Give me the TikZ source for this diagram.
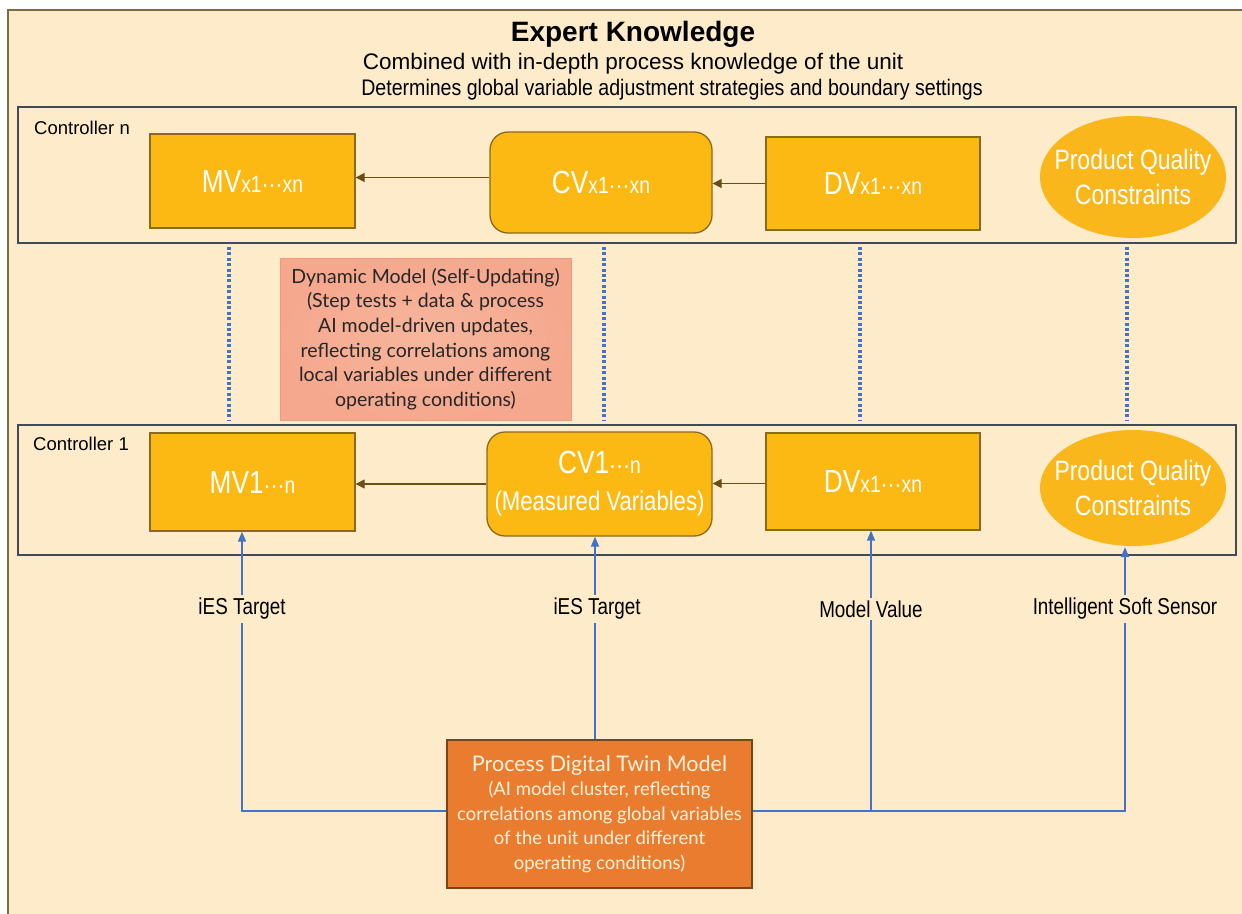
\documentclass[tikz,border=0pt]{standalone}
\usepackage{fontspec}
\setmainfont{Liberation Sans}
\newfontfamily\narrowf[FakeStretch=0.82]{Liberation Sans}
\newfontfamily\semif[FakeStretch=0.87]{Liberation Sans}
\newfontfamily\humf{Lato}
\newfontfamily\dvf{DejaVu Sans}
\usetikzlibrary{arrows.meta,shapes.geometric,calc}
\definecolor{bg}{HTML}{FDEBC9}
\definecolor{framecol}{HTML}{7D6B45}
\definecolor{ctrlborder}{HTML}{3F4B58}
\definecolor{gold}{HTML}{FDB913}
\definecolor{goldborder}{HTML}{8A6A1C}
\definecolor{ellgold}{HTML}{F9B71C}
\definecolor{brownarrow}{HTML}{6A4E14}
\definecolor{blueline}{HTML}{4472C4}
\definecolor{salmon}{HTML}{F5A88E}
\definecolor{salmonlight}{HTML}{F7B69D}
\definecolor{salmonborder}{HTML}{EE9A7C}
\definecolor{procorange}{HTML}{EA7C30}
\definecolor{procborder}{HTML}{7A4516}
\definecolor{cream}{HTML}{FFF1DA}
\newcommand\subtxt[1]{{\fontsize{23.5}{25}\selectfont #1}}
\newcommand\dts{{\dvf\fontsize{21}{25}\selectfont ⋯}}
\newcommand\bigtxt[1]{{\fontsize{32}{34}\selectfont #1}}
\begin{document}
\begin{tikzpicture}[x=1pt,y=-1pt,
  ctrlbox/.style={draw=ctrlborder, line width=1.8pt, fill=bg, inner sep=0pt},
  goldbox/.style={draw=goldborder, line width=1.3pt, fill=gold, inner sep=0pt, text=white, font=\narrowf},
  goldround/.style={goldbox, rounded corners=18pt},
  goldell/.style={ellipse, fill=ellgold, inner xsep=-14pt, inner ysep=10pt, text=white, align=center, font=\narrowf\fontsize{28}{35}\selectfont},
  ctrllabel/.style={anchor=west, inner sep=0pt, font=\fontsize{18.5}{20}\selectfont},
  brarrow/.style={draw=brownarrow, line width=1.3pt, -{Triangle[width=9pt,length=9pt]}},
  bluearrow/.style={draw=blueline, line width=1.5pt, -{Triangle[width=8pt,length=10pt]}},
  dotline/.style={draw=blueline, line width=3.4pt, dash pattern=on 3pt off 2.4pt},
  flowlabel/.style={fill=bg, inner sep=3pt, font=\narrowf\fontsize{23}{25}\selectfont},
  dynbox/.style={draw=salmonborder, line width=1pt, inner color=salmonlight, outer color=salmon, align=center, inner sep=0pt, text=black!85, font=\humf\fontsize{19.5}{24.7}\selectfont},
  procbox/.style={draw=procborder, line width=1.8pt, fill=procorange, align=center, inner sep=0pt, text=cream, font=\humf\fontsize{18.5}{24.5}\selectfont}
]
\useasboundingbox (0,0) rectangle (1242,913);
\fill[white] (0,0) rectangle (1242,913);
\fill[bg] (8,10) rectangle (1252,925);
\draw[framecol, line width=1.5pt] (8,925) -- (8,10) -- (1252,10);

% header
\node[inner sep=0pt] (title) at (633,34) {\bfseries\fontsize{28}{30}\selectfont Expert Knowledge};
\node[inner sep=0pt] (sub1) at (633,64) {\fontsize{22.5}{24}\selectfont Combined with in-depth process knowledge of the unit};
\node[inner sep=0pt] (sub2) at (672,90) {\semif\fontsize{22.5}{24}\selectfont Determines global variable adjustment strategies and boundary settings};

% controller n
\node[ctrlbox, minimum width=1218pt, minimum height=136pt] (cn) at (627,175) {};
\node[ctrllabel] (cnlabel) at (34,128) {Controller n};
\node[goldbox, minimum width=205pt, minimum height=94pt] (mvn) at (252.5,181) {\bigtxt{MV}\subtxt{x1\dts xn}};
\node[goldround, minimum width=222pt, minimum height=101pt] (cvn) at (601,182.5) {\bigtxt{CV}\subtxt{x1\dts xn}};
\node[goldbox, minimum width=214pt, minimum height=93pt] (dvn) at (873,183.5) {\bigtxt{DV}\subtxt{x1\dts xn}};
\node[goldell, minimum width=186pt, minimum height=122pt] (pqn) at (1133,177) {Product Quality\\Constraints};
\draw[brarrow] ([yshift=5pt]cvn.west) -- ([yshift=5pt]cvn.west -| mvn.east);
\draw[brarrow] (dvn.west) -- (dvn.west -| cvn.east);

% controller 1
\node[ctrlbox, minimum width=1218pt, minimum height=130pt] (c1) at (627,490) {};
\node[ctrllabel] (c1label) at (33,444) {Controller 1};
\node[goldbox, minimum width=205pt, minimum height=98pt] (mv1) at (252.5,482) {\bigtxt{MV1}\subtxt{\dts n}};
\node[goldround, minimum width=225pt, minimum height=104pt, align=center, font=\narrowf\fontsize{27}{37}\selectfont] (cv1) at (599.5,484) {\bigtxt{CV1}\subtxt{\dts n}\\(Measured Variables)};
\node[goldbox, minimum width=214pt, minimum height=97pt] (dv1) at (873,481.5) {\bigtxt{DV}\subtxt{x1\dts xn}};
\node[goldell, minimum width=186pt, minimum height=116pt] (pq1) at (1133,488) {Product Quality\\Constraints};
\draw[brarrow] (cv1.west) -- (cv1.west -| mv1.east);
\draw[brarrow] ([yshift=-2pt]dv1.west) -- ([yshift=-2pt]dv1.west -| cv1.east);

% dotted links
\coordinate (d1) at (229,0);
\coordinate (d2) at (604,0);
\coordinate (d3) at (860,0);
\coordinate (d4) at (1127,0);
\foreach \d in {d1,d2,d3,d4}{
  \draw[dotline] ([yshift=-3pt]cn.south -| \d) -- ([yshift=3pt]c1.north -| \d);
}

% dynamic model
\node[dynbox, minimum width=291pt, minimum height=162pt] (dyn) at (425.5,339) {Dynamic Model (Self-Updating)\\(Step tests + data \& process\\AI model-driven updates,\\reflecting correlations among\\local variables under different\\operating conditions)};

% process digital twin
\node[procbox, minimum width=305pt, minimum height=148pt] (pdt) at (599.5,814) {{\fontsize{21.5}{26}\selectfont Process Digital Twin Model}\\(AI model cluster, reflecting\\correlations among global variables\\of the unit under different\\operating conditions)};

\coordinate (b1) at (242,0);
\coordinate (b2) at (595,0);
\coordinate (b3) at (871,0);
\coordinate (b4) at (1125,0);
\coordinate (jl) at ([yshift=3pt]pdt.west);
\coordinate (jr) at ([yshift=3pt]pdt.east);
\draw[bluearrow] (jl) -| (mv1.south -| b1);
\draw[bluearrow] (pdt.north -| b2) -- (cv1.south -| b2);
\draw[bluearrow] (jr -| b3) -- (dv1.south -| b3);
\draw[bluearrow] (jr) -| ([yshift=-1pt]pq1.south -| b4);

\node[flowlabel] (l1) at (242,609) {iES Target};
\node[flowlabel] (l2) at (597,609) {iES Target};
\node[flowlabel] (l3) at (871,609) {Model Value};
\node[flowlabel] (l4) at (1125,609) {Intelligent Soft Sensor};
\end{tikzpicture}
\end{document}
